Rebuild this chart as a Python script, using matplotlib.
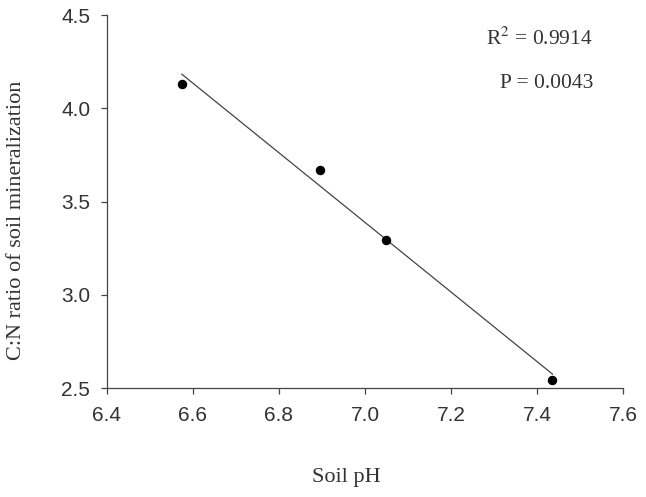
import numpy as np
from matplotlib import pyplot as plt
from matplotlib import rcParams

rcParams["mathtext.fontset"] = "stix"

# data
soil_ph = [6.574, 6.895, 7.050, 7.436]
cn_ratio = [4.129, 3.670, 3.294, 2.543]
x_ticks = [6.4, 6.6, 6.8, 7.0, 7.2, 7.4, 7.6]
y_ticks = [2.5, 3.0, 3.5, 4.0, 4.5]
r2_text = r"R$^2$ = 0.9914"
p_text = "P = 0.0043"

fig = plt.figure(figsize=(6.46, 4.97), dpi=100)
ax = fig.add_axes([0.1656, 0.2193, 0.7988, 0.7505])

# regression line over the data range
slope, intercept = np.polyfit(soil_ph, cn_ratio, 1)
xs = np.array([min(soil_ph), max(soil_ph)])
ax.plot(xs, slope * xs + intercept, color="#444444", linewidth=0.9)
ax.plot(soil_ph, cn_ratio, "o", color="black", markersize=5.8)

ax.set_xlim(6.4, 7.6)
ax.set_ylim(2.5, 4.5)
ax.set_xticks(x_ticks)
ax.set_yticks(y_ticks)
ax.set_xticklabels([f"{v:.1f}" for v in x_ticks], family="Liberation Sans", fontsize=15, color="#333333")
ax.set_yticklabels([f"{v:.1f}" for v in y_ticks], family="Liberation Sans", fontsize=15, color="#333333")

for side in ["top", "right"]:
    ax.spines[side].set_visible(False)
for side in ["left", "bottom"]:
    ax.spines[side].set_color("#444444")
    ax.spines[side].set_linewidth(0.9)
ax.tick_params(axis="x", direction="out", length=4, width=0.9, color="#444444", pad=9)
ax.tick_params(axis="y", direction="out", length=4, width=0.9, color="#444444", pad=8)

ax.set_xlabel("Soil pH", family="Liberation Serif", fontsize=16, color="#333333")
ax.xaxis.set_label_coords(0.463, -0.215)
ax.set_ylabel("C:N ratio of soil mineralization", family="Liberation Serif", fontsize=16, color="#333333")
ax.yaxis.set_label_coords(-0.157, 0.45)

ax.text(0.942, 0.920, r2_text, transform=ax.transAxes, ha="right", va="baseline",
        family="Liberation Serif", fontsize=15.5, color="#333333")
ax.text(0.942, 0.804, p_text, transform=ax.transAxes, ha="right", va="baseline",
        family="Liberation Serif", fontsize=15.5, color="#333333")

fig.savefig("out.png", dpi=100)
